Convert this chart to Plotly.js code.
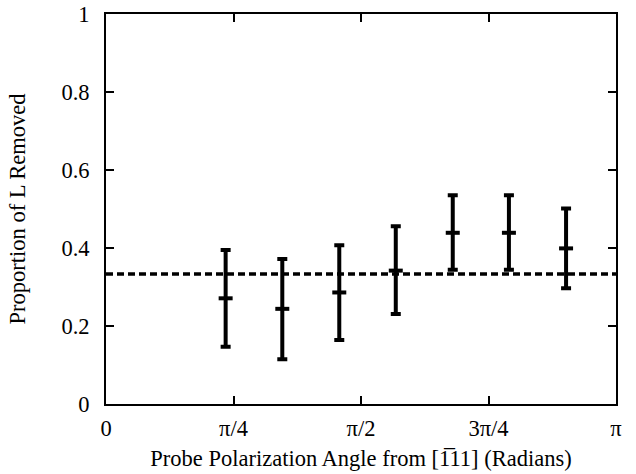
<!DOCTYPE html>
<html>
<head>
<meta charset="utf-8">
<script src="https://cdn.plot.ly/plotly-3.0.1.min.js"></script>
<style>html,body{margin:0;padding:0;background:#fff;}#chart{width:636px;height:474px;}</style>
</head>
<body>
<div id="chart"></div>
<script>
// Data
const angles = [0.737, 1.086, 1.437, 1.785, 2.136, 2.482, 2.834];
const proportion = [0.271, 0.244, 0.286, 0.342, 0.439, 0.439, 0.399];
const upperBound = [0.395, 0.372, 0.407, 0.456, 0.535, 0.535, 0.501];
const lowerBound = [0.147, 0.115, 0.164, 0.231, 0.344, 0.344, 0.297];
const refLineX = [0, 3.14159];
const refLineY = [0.3333, 0.3333];
const xTickVals = [0, 0.785398, 1.570796, 2.356194, 3.141593];
const xTickText = ['0', 'π/4', 'π/2', '3π/4', 'π'];
const yTickVals = [0, 0.2, 0.4, 0.6, 0.8, 1];
const yTickText = ['0', '0.2', '0.4', '0.6', '0.8', '1'];

const errPlus = upperBound.map((u, i) => u - proportion[i]);
const errMinus = lowerBound.map((l, i) => proportion[i] - l);

const FONT = 'Liberation Serif';

const traces = [
  {
    x: refLineX, y: refLineY, type: 'scatter', mode: 'lines',
    line: {color: '#000', width: 3.5, dash: '7px,4px'},
    hoverinfo: 'skip', showlegend: false
  },
  {
    x: angles, y: proportion, type: 'scatter', mode: 'markers',
    marker: {symbol: 'line-ew', size: 10, color: '#000', line: {color: '#000', width: 4}},
    error_y: {type: 'data', symmetric: false, array: errPlus, arrayminus: errMinus,
              color: '#000', thickness: 4, width: 5},
    showlegend: false
  }
];

const axisCommon = {
  showline: true, linecolor: '#000', linewidth: 2, mirror: 'ticks',
  ticks: 'inside', ticklen: 8, tickwidth: 2, tickcolor: '#000',
  showgrid: false, zeroline: false,
  tickfont: {family: FONT, size: 22.5, color: '#000'}
};

const layout = {
  width: 636, height: 474,
  margin: {l: 106, r: 20, t: 14, b: 70},
  paper_bgcolor: '#fff', plot_bgcolor: '#fff',
  font: {family: FONT, color: '#000'},
  showlegend: false,
  xaxis: Object.assign({}, axisCommon, {
    range: [0, 3.141593], tickmode: 'array', tickvals: xTickVals, ticktext: xTickText,
    ticklabelstandoff: 3,
    title: {text: 'Probe Polarization Angle from [1\u030511] (Radians)', font: {family: FONT, size: 22.5, color: '#000'}, standoff: 10}
  }),
  yaxis: Object.assign({}, axisCommon, {
    range: [0, 1], tickmode: 'array', tickvals: yTickVals, ticktext: yTickText,
    ticklabelstandoff: 10,
    title: {text: 'Proportion of L Removed', font: {family: FONT, size: 22.5, color: '#000'}, standoff: 30}
  })
};

Plotly.newPlot('chart', traces, layout, {staticPlot: true, displayModeBar: false});
</script>
</body>
</html>
